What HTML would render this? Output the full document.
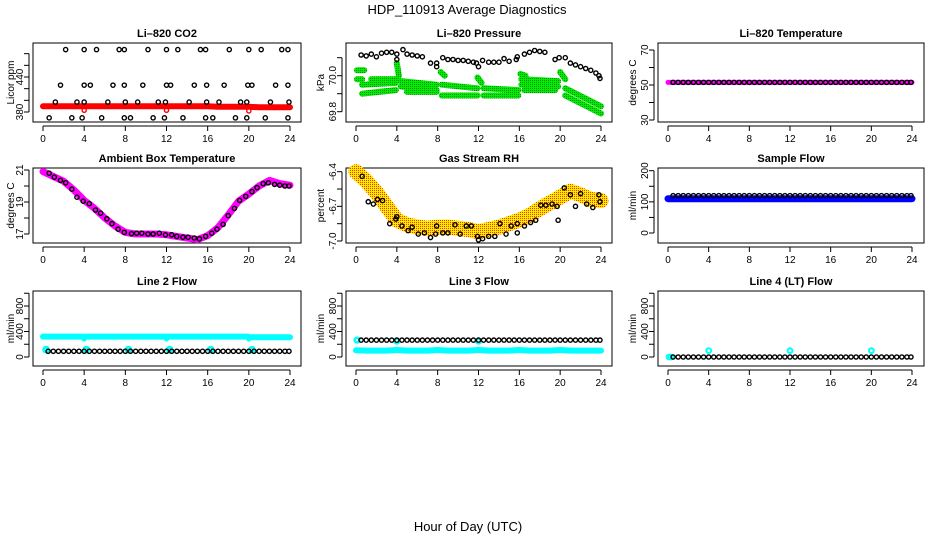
<!DOCTYPE html>
<html><head><meta charset="utf-8">
<style>
html,body{margin:0;padding:0;background:#fff;}
svg{display:block;font-family:"Liberation Sans",Arial,sans-serif;}
.t{font-size:11px;font-weight:bold;text-anchor:middle;}
.tk{font-size:10px;text-anchor:middle;}
</style></head>
<body>
<svg id="chart" width="936" height="540" viewBox="0 0 936 540" xmlns="http://www.w3.org/2000/svg">
<defs>
<pattern id="pOrange" width="2" height="2" patternUnits="userSpaceOnUse"><rect width="2" height="2" fill="#ffee00"/><rect width="1" height="1" fill="#ff3000"/></pattern>
<pattern id="pGreen" width="2" height="2" patternUnits="userSpaceOnUse"><rect width="2" height="2" fill="#00ee00"/><rect width="1" height="1" fill="#118811"/></pattern>
</defs>
<text x="467" y="14" font-size="13" text-anchor="middle">HDP_110913  Average Diagnostics</text>
<text x="468" y="531" font-size="13" text-anchor="middle">Hour of Day (UTC)</text>
<g id="plots"></g>
</svg>
<script>
// ---- shared data ----
const xTicks = [0,4,8,12,16,20,24];
const hrs48 = [0.5,1,1.5,2,2.5,3,3.5,4,4.5,5,5.5,6,6.5,7,7.5,8,8.5,9,9.5,10,10.5,11,11.5,12,12.5,13,13.5,14,14.5,15,15.5,16,16.5,17,17.5,18,18.5,19,19.5,20,20.5,21,21.5,22,22.5,23,23.5,23.9];
const hrs25 = [0,1,2,3,4,5,6,7,8,9,10,11,12,13,14,15,16,17,18,19,20,21,22,23,24];

// CO2
const co2Hours = [2.2,4,5.2,7.4,7.9,10.2,12,13.1,15.3,15.8,18.1,20,21.2,23.2,23.8, 1.7,4,4.6,6.8,7.9,9.7,12,12.4,14.7,15.9,17.6,19.9,20.3,22.6,23.8, 1.2,3.3,4,6.3,8,9.2,11.2,11.9,14.2,15.9,17.1,19.2,19.8,22.1,23.9, 0.6,2.8,3.8,5.7,7.9,8.5,10.7,11.8,13.6,15.8,16.5,18.7,19.8,21.6,23.8];
const co2Vals = [487,487,487,487,487,487,487,487,487,487,487,487,487,487,487, 426,426,426,426,426,426,426,426,426,426,426,426,426,426,426, 397,397,397,397,397,397,397,397,397,397,397,397,397,397,397, 370,370,370,370,370,370,370,370,370,370,370,370,370,370,370];
const co2RedBand = [390,390,390,390,390,390,390,390,390,390,390,390,390,390,390,390,390,389,389,389,389,388,388,388,388];
const co2RedHours = [4,12,20];
const co2RedVals = [383,383,382];

// Pressure
const presHours = [0.5,1,1.5,2,2.5,3,3.5,4,4,4.6,5,5.5,6,6.5,7.3,7.9,7.9,8.5,9,9.5,10,10.5,11,11.5,11.8,12,12.4,13,13.5,14,14.5,15,15.7,15.8,16.5,17,17.5,18,18.5,19.5,19.9,20.5,21,21.5,22,22.5,23,23.5,23.8,23.9];
const presVals = [70.115,70.11,70.12,70.105,70.125,70.13,70.13,70.12,70.09,70.145,70.12,70.115,70.11,70.105,70.07,70.07,70.05,70.1,70.09,70.09,70.085,70.085,70.08,70.075,70.07,70.05,70.085,70.075,70.075,70.075,70.095,70.08,70.09,70.105,70.12,70.13,70.14,70.135,70.13,70.09,70.1,70.1,70.07,70.06,70.05,70.04,70.03,70.015,70.0,69.985];
const greenH0 = [0.1,0.1,0.6,0.6,1.5,4,4.4,4.4,5,8.3,8.4,8.4,11.9,12.5,12.5,16.1,16.2,16.2,16.5,20,20.5,20.5];
const greenH1 = [0.8,0.6,3.9,3.9,3.9,4.2,7.9,7.9,7.9,8.7,11.9,11.9,12.3,15.9,15.9,16.6,19.8,19.8,19.5,20.5,24,24];
const greenV0 = [70.03,69.98,69.95,69.9,69.98,70.07,69.97,69.94,69.91,70.02,69.95,69.89,69.99,69.93,69.89,70.01,69.98,69.95,69.92,70.02,69.93,69.89];
const greenV1 = [70.03,69.98,69.96,69.92,69.98,70.0,69.95,69.92,69.91,70.0,69.93,69.89,69.96,69.92,69.89,70.0,69.97,69.94,69.92,69.98,69.83,69.79];

// Li-820 temperature
const tempBand = [51.5,51.5,51.5,51.5,51.5,51.5,51.5,51.5,51.5,51.5,51.5,51.5,51.5,51.5,51.5,51.5,51.5,51.5,51.5,51.5,51.5,51.5,51.5,51.5,51.5];
const tempBlack = [51.5,51.5,51.5,51.5,51.5,51.5,51.5,51.5,51.5,51.5,51.5,51.5,51.5,51.5,51.5,51.5,51.5,51.5,51.5,51.5,51.5,51.5,51.5,51.5,51.5,51.5,51.5,51.5,51.5,51.5,51.5,51.5,51.5,51.5,51.5,51.5,51.5,51.5,51.5,51.5,51.5,51.5,51.5,51.5,51.5,51.5,51.5,51.5];

// Ambient box temperature
const ambBand = [20.9,20.6,20.3,19.75,19.1,18.6,18.0,17.5,17.1,17.0,17.0,17.0,16.95,16.85,16.75,16.65,16.9,17.4,18.2,19.05,19.5,20.0,20.35,20.15,20.05];
const ambHours = [0.6,1.1,1.7,2.2,2.8,3.3,3.9,4.5,5.1,5.6,6.2,6.7,7.3,7.9,8.6,9.1,9.6,10.2,10.7,11.3,11.9,12.5,13,13.6,14.1,14.7,15.2,15.8,16.4,16.9,17.5,18,18.6,19.1,19.7,20.3,20.8,21.4,21.9,22.5,23,23.5,23.9];
const ambVals = [20.8,20.55,20.35,20.2,19.8,19.3,19.05,18.9,18.5,18.3,17.95,17.65,17.3,17.1,17.02,17.05,17.05,17.0,17.0,17.05,16.95,16.95,16.85,16.8,16.8,16.75,16.7,16.85,17.05,17.3,17.6,18.15,18.6,19.1,19.35,19.65,19.9,20.15,20.2,20.1,20.05,20.0,20.0];

// Gas stream RH
const rhBand = [-6.4,-6.48,-6.58,-6.7,-6.82,-6.86,-6.88,-6.89,-6.88,-6.88,-6.89,-6.9,-6.92,-6.9,-6.88,-6.85,-6.82,-6.78,-6.72,-6.67,-6.62,-6.57,-6.6,-6.64,-6.65];
const rhHours = [0.6,1.2,1.7,2.1,2.6,3.3,3.9,4,4.5,5.1,5.5,6.1,6.7,7.3,7.8,7.9,8.5,9,9.7,10.2,10.8,11.3,11.9,12,12.4,13,13.6,14.1,14.7,15.2,15.8,15.8,16.5,17.1,17.6,18.1,18.6,19.2,19.7,19.8,20.4,21,21.5,22,22.6,23.2,23.8,23.9];
const rhVals = [-6.44,-6.66,-6.68,-6.64,-6.65,-6.85,-6.81,-6.79,-6.87,-6.91,-6.88,-6.94,-6.93,-6.97,-6.94,-6.87,-6.93,-6.93,-6.86,-6.94,-6.87,-6.87,-6.96,-6.99,-6.98,-6.96,-6.96,-6.85,-6.94,-6.87,-6.85,-6.93,-6.87,-6.84,-6.82,-6.69,-6.69,-6.68,-6.7,-6.82,-6.54,-6.6,-6.7,-6.59,-6.68,-6.71,-6.6,-6.66];

// Sample flow
const sampleBand = [110,110,110,110,110,110,110,110,110,110,110,110,110,110,110,110,110,110,110,110,110,110,110,110,110];
const sampleBlack = [120,120,120,120,120,120,120,120,120,120,120,120,120,120,120,120,120,120,120,120,120,120,120,120,120,120,120,120,120,120,120,120,120,120,120,120,120,120,120,120,120,120,120,120,120,120,120,120];

// Line 2 flow
const line2HiHours = [0,3.9,4,4.1,11.9,12,12.1,19.9,20,20.1,24];
const line2HiVals = [320,320,290,320,320,290,320,320,290,310,310];
const line2LoHours = [0.3,4.2,8.3,12.3,16.3,20.3];
const line2LoVals = [115,115,115,115,115,115];
const line2Black = [90,90,90,90,90,90,90,90,90,90,90,90,90,90,90,90,90,90,90,90,90,90,90,90,90,90,90,90,90,90,90,90,90,90,90,90,90,90,90,90,90,90,90,90,90,90,90,90];

// Line 3 flow
const line3Band = [105,100,100,100,110,100,100,100,110,100,100,100,110,100,100,100,110,100,100,100,110,100,100,100,100];
const line3Black = [265,265,265,265,265,265,265,265,265,265,265,265,265,265,265,265,265,265,265,265,265,265,265,265,265,265,265,265,265,265,265,265,265,265,265,265,265,265,265,265,265,265,265,265,265,265,265,265];
const line3CyanHours = [0.1,4,12];
const line3CyanVals = [265,250,250];

// Line 4 flow
const line4Black = [0,0,0,0,0,0,0,0,0,0,0,0,0,0,0,0,0,0,0,0,0,0,0,0,0,0,0,0,0,0,0,0,0,0,0,0,0,0,0,0,0,0,0,0,0,0,0,0];
const line4CyanHours = [0.1,0.3,4,12,20];
const line4CyanVals = [0,0,100,100,100];

// ---- layout ----
const cols = [{x0:43,x24:290,l:33,r:301,lab:10},{x0:356,x24:601,l:346,r:612,lab:320},{x0:668,x24:912,l:658,r:924,lab:632}];
const rows = [{t:43,b:122},{t:168,b:243},{t:291,b:366}];
const NS = 'http://www.w3.org/2000/svg';
const root = document.getElementById('plots');
function mk(tag, attrs, parent, text){
  const e = document.createElementNS(NS, tag);
  for (const k in attrs) e.setAttribute(k, attrs[k]);
  if (text !== undefined) e.textContent = text;
  (parent||root).appendChild(e);
  return e;
}
function panel(ci, ri, name, title, ylab, v1, p1, v2, p2, ticks, labels, dec){
  const c = cols[ci], r = rows[ri];
  const g = mk('g', {});
  
  
  const X = h => c.x0 + (c.x24 - c.x0) * h / 24;
  const Y = v => p1 + (p2 - p1) * (v - v1) / (v2 - v1);
  const tt = mk('text', {x:(c.l+c.r)/2, y:r.t-6, class:'t'}, g, title);
  
  
  const box = mk('rect', {x:c.l, y:r.t, width:c.r-c.l, height:r.b-r.t, fill:'none', stroke:'#000', 'stroke-width':1}, g);
  
  
  const xa = mk('g', {}, g);
  
  
  mk('line', {x1:X(0), x2:X(24), y1:r.b+4, y2:r.b+4, stroke:'#000'}, xa);
  xTicks.forEach(h => {
    mk('line', {x1:X(h), x2:X(h), y1:r.b+4, y2:r.b+9, stroke:'#000'}, xa);
    mk('text', {x:X(h), y:r.b+20, class:'tk'}, xa, String(h));
  });
  const ya = mk('g', {}, g);
  
  
  mk('line', {x1:c.l-4, x2:c.l-4, y1:Y(ticks[0]), y2:Y(ticks[ticks.length-1]), stroke:'#000'}, ya);
  ticks.forEach(v => mk('line', {x1:c.l-9, x2:c.l-4, y1:Y(v), y2:Y(v), stroke:'#000'}, ya));
  labels.forEach(v => {
    const y = Y(v), x = c.l - 10;
    mk('text', {x:x, y:y, class:'tk', transform:`rotate(-90 ${x} ${y})`}, ya, v.toFixed(dec||0));
  });
  const lx = c.lab + 4, ly = (r.t+r.b)/2;
  const yl = mk('text', {x:lx, y:ly, class:'tk', transform:`rotate(-90 ${lx} ${ly})`}, g, ylab);
  
  
  const plot = mk('g', {}, g);
  
  
  return {X, Y, g:plot};
}
function band(p, hs, vs, color, w, name){
  const pts = hs.map((h,i) => p.X(h).toFixed(1) + ',' + p.Y(vs[i]).toFixed(1)).join(' ');
  const e = mk('polyline', {points:pts, fill:'none', stroke:color, 'stroke-width':w, 'stroke-linecap':'round', 'stroke-linejoin':'round'}, p.g);
  
  
}
function pts(p, hs, vs, color, name, rad, sw){
  hs.forEach((h,i) => {
    const e = mk('circle', {cx:p.X(h), cy:p.Y(vs[i]), r:rad||2.1, fill:'none', stroke:color, 'stroke-width':sw||1.4}, p.g);
    
    
  });
}

// CO2
let p = panel(0,0,'co2','Li\u2013820 CO2','Licor ppm',380,112,440,77,[380,400,420,440,460,480],[380,440]);
band(p, hrs25, co2RedBand, '#ff0000', 6, 'co2-red-band');
pts(p, co2RedHours, co2RedVals, '#ff0000', 'co2-red-point');
pts(p, co2Hours, co2Vals, '#000', 'co2-point');

// Pressure
p = panel(1,0,'pressure','Li\u2013820 Pressure','kPa',70.0,75.7,69.8,111.7,[69.8,69.9,70.0,70.1],[69.8,70.0],1);
greenH0.forEach((h,i) => band(p, [h, greenH1[i]], [greenV0[i], greenV1[i]], 'url(#pGreen)', 6, 'pressure-green-band'));
pts(p, presHours, presVals, '#000', 'pressure-point');

// Li-820 temperature
p = panel(2,0,'li820-temperature','Li\u2013820 Temperature','degrees C',30,120,70,50,[30,40,50,60,70],[30,50,70]);
band(p, hrs25, tempBand, '#ff00ff', 5, 'temperature-band');
pts(p, hrs48, tempBlack, '#000', 'temperature-point');

// Ambient
p = panel(0,1,'ambient-temperature','Ambient Box Temperature','degrees C',17,234,21,170,[17,18,19,20,21],[17,19,21]);
band(p, hrs25, ambBand, '#ff00ff', 7, 'ambient-band');
pts(p, ambHours, ambVals, '#000', 'ambient-point');

// RH
p = panel(1,1,'gas-stream-rh','Gas Stream RH','percent',-6.4,171.7,-7.0,241,[-7.0,-6.85,-6.7,-6.55,-6.4],[-7.0,-6.7,-6.4],1);
band(p, hrs25, rhBand, 'url(#pOrange)', 15, 'rh-band');
pts(p, rhHours, rhVals, '#000', 'rh-point');

// Sample flow
p = panel(2,1,'sample-flow','Sample Flow','ml/min',0,233,200,170.7,[0,50,100,150,200],[0,100,200]);
band(p, hrs25, sampleBand, '#0000ff', 7, 'sample-band');
pts(p, hrs48, sampleBlack, '#000', 'sample-point');

// Line 2
p = panel(0,2,'line2-flow','Line 2 Flow','ml/min',0,357,400,331.5,[0,200,400,600,800,1000],[0,400,800]);
band(p, line2HiHours, line2HiVals, '#00ffff', 6, 'line2-high-band');
pts(p, line2LoHours, line2LoVals, '#00ffff', 'line2-low-point', 2.4, 3);
pts(p, hrs48, line2Black, '#000', 'line2-point');

// Line 3
p = panel(1,2,'line3-flow','Line 3 Flow','ml/min',0,357,400,331.5,[0,200,400,600,800,1000],[0,400,800]);
band(p, hrs25, line3Band, '#00ffff', 6, 'line3-band');
pts(p, line3CyanHours, line3CyanVals, '#00ffff', 'line3-cyan-point', 2.4, 2.5);
pts(p, hrs48, line3Black, '#000', 'line3-point');

// Line 4
p = panel(2,2,'line4-flow','Line 4 (LT) Flow','ml/min',0,357,400,331.5,[0,200,400,600,800,1000],[0,400,800]);
pts(p, line4CyanHours, line4CyanVals, '#00ffff', 'line4-cyan-point', 2.4, 2);
pts(p, hrs48, line4Black, '#000', 'line4-point');
</script>
</body></html>
